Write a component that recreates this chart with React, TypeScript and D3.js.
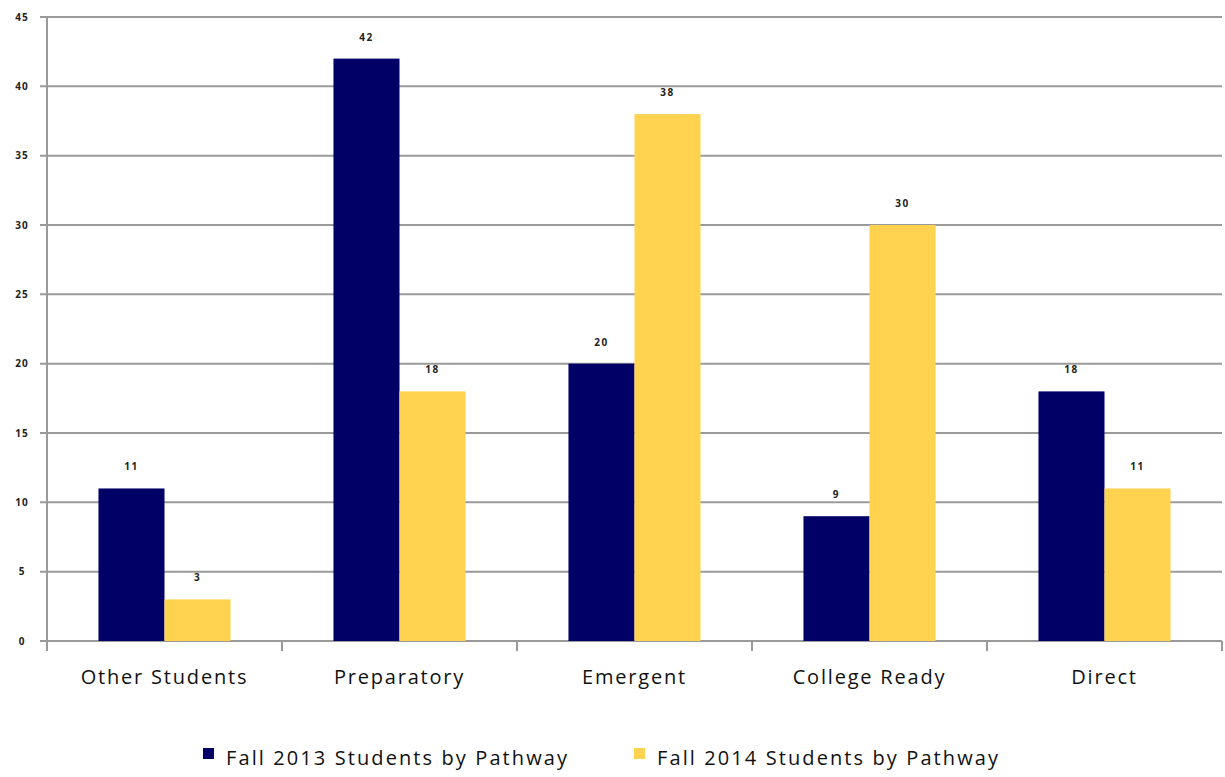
import React from "react";
import * as d3 from "d3";

const categories = ["Other Students", "Preparatory", "Emergent", "College Ready", "Direct"];
const seriesNames = ["Fall 2013 Students by Pathway", "Fall 2014 Students by Pathway"];
const fall2013 = [11, 42, 20, 9, 18];
const fall2014 = [3, 18, 38, 30, 11];
const yTicks = [0, 5, 10, 15, 20, 25, 30, 35, 40, 45];
const colors = ["#000066", "#FFD24F"];

export default function App() {
  const W = 1225, H = 777;
  const left = 47, right = 1222, top = 17, bottom = 641;
  const x0 = d3.scaleBand<string>().domain(categories).range([left, right]).paddingInner(0.438).paddingOuter(0.219);
  const x1 = d3.scaleBand<string>().domain(seriesNames).range([0, x0.bandwidth()]);
  const y = d3.scaleLinear().domain([0, 45]).range([bottom, top]);
  const series = [fall2013, fall2014];
  const step = x0.step();
  const font = "'Open Sans', 'Noto Sans', sans-serif";
  return (
    <svg width={W} height={H} style={{ position: "absolute", left: 0, top: 0, background: "#fff" }}>
      {yTicks.map((t) => (
        <g key={t}>
          <line x1={40} x2={right} y1={y(t)} y2={y(t)} stroke="#9a9a9a" strokeWidth={2} />
          <text x={22} y={y(t)} dy="0.35em" textAnchor="middle" fontSize={10} fontWeight="bold" fontFamily={font} fill="#222" letterSpacing={1}>{t}</text>
        </g>
      ))}
      <line x1={left} x2={left} y1={top} y2={bottom + 10} stroke="#9a9a9a" strokeWidth={2} />
      {d3.range(categories.length + 1).map((i) => (
        <line key={i} x1={left + i * step} x2={left + i * step} y1={bottom} y2={bottom + 10} stroke="#9a9a9a" strokeWidth={2} />
      ))}
      {categories.map((c, i) => (
        <g key={c}>
          {series.map((s, j) => {
            const bx = (x0(c) as number) + (x1(seriesNames[j]) as number);
            return (
              <g key={j}>
                <rect x={bx} y={y(s[i])} width={x1.bandwidth()} height={bottom - y(s[i])} fill={colors[j]} />
                <text x={bx + x1.bandwidth() / 2} y={y(s[i]) - 18} textAnchor="middle" fontSize={10} fontWeight="bold" fontFamily={font} fill="#222" letterSpacing={1.5}>{s[i]}</text>
              </g>
            );
          })}
          <text x={(x0(c) as number) + x0.bandwidth() / 2} y={684} textAnchor="middle" fontSize={20} fontFamily={font} fill="#111" letterSpacing={1.8}>{c}</text>
        </g>
      ))}
      {seriesNames.map((n, j) => {
        const lx = j === 0 ? 203 : 634;
        return (
          <g key={n}>
            <rect x={lx} y={748} width={11} height={11} fill={colors[j]} />
            <text x={lx + 23} y={765} fontSize={20} fontFamily={font} fill="#111" letterSpacing={2.1}>{n}</text>
          </g>
        );
      })}
    </svg>
  );
}
